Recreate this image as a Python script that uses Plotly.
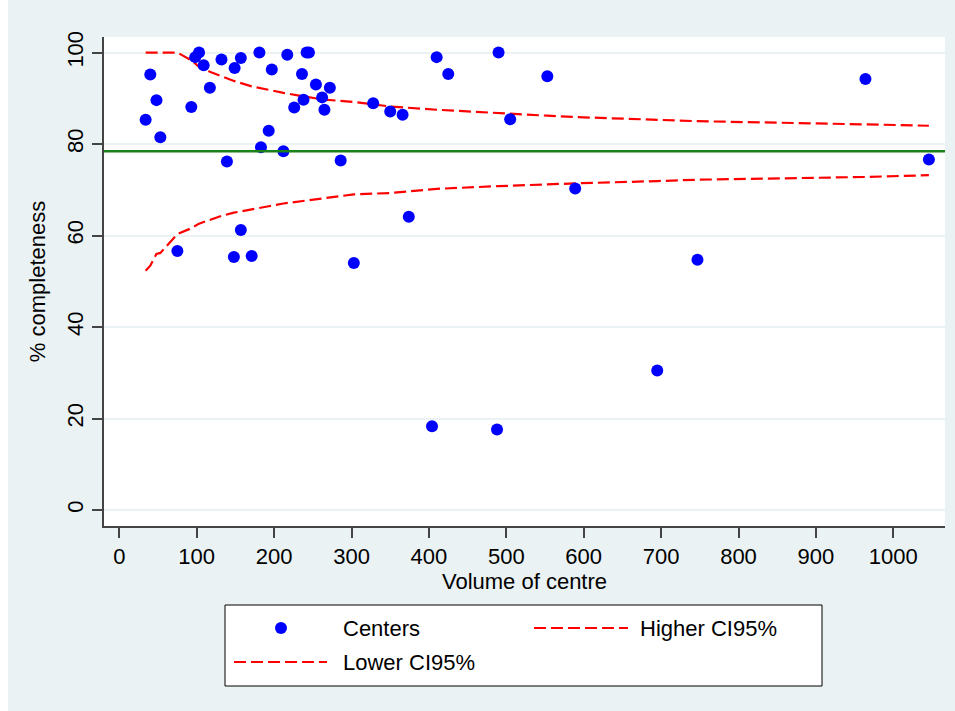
import plotly.graph_objects as go

# Centre volume and % completeness for each centre
volume = [34, 40, 48, 53, 75, 93, 98, 103, 109, 117, 132, 139, 149, 157, 148,
          157, 171, 181, 183, 193, 197, 212, 217, 226, 236, 238, 242, 245, 254,
          262, 265, 272, 286, 303, 328, 350, 366, 374, 404, 410, 425, 488, 490,
          505, 553, 589, 695, 747, 964, 1046]
completeness = [85.3, 95.2, 89.6, 81.5, 56.6, 88.1, 99.0, 100, 97.2, 92.3, 98.5,
                76.2, 96.6, 98.8, 55.3, 61.2, 55.5, 100, 79.3, 82.9, 96.3, 78.4,
                99.5, 88.0, 95.3, 89.7, 100, 100, 93.0, 90.2, 87.5, 92.3, 76.4,
                54.0, 88.9, 87.1, 86.4, 64.1, 18.3, 99.0, 95.3, 17.6, 100, 85.4,
                94.8, 70.3, 30.5, 54.7, 94.2, 76.6]

# Overall completeness (reference line)
overall = 78.4

# 95% control limits by centre volume
ci_volume = [34, 40, 48, 53, 75, 93, 103, 117, 132, 148, 171, 193, 212, 242,
             265, 303, 350, 410, 490, 553, 589, 695, 747, 964, 1046]
ci_upper = [100, 100, 100, 100, 100, 98.3, 96.9, 95.8, 94.8, 93.8, 92.6, 91.8,
            91.2, 90.3, 89.7, 89.2, 88.2, 87.5, 86.7, 86.2, 85.9, 85.2, 85.0,
            84.3, 84.0]
ci_lower = [52.3, 53.4, 56.0, 56.2, 60.3, 61.6, 62.6, 63.4, 64.3, 65.0, 65.8,
            66.4, 67.0, 67.7, 68.2, 69.0, 69.3, 70.2, 70.8, 71.2, 71.4, 71.9,
            72.2, 72.8, 73.2]

x_ticks = [0, 100, 200, 300, 400, 500, 600, 700, 800, 900, 1000]
y_ticks = [0, 20, 40, 60, 80, 100]

BG = "#EAF2F3"
RED = "#FF0000"
DASH = "12px,5px"
FONT = "Liberation Sans, Arial, sans-serif"
W, H = 955, 711
ML, MR, MT, MB = 104, 10, 37, 185
PW, PH = W - ML - MR, H - MT - MB


def px(x):
    return (x - ML) / PW


def py(y):
    return (H - MB - y) / PH


fig = go.Figure()

fig.add_trace(go.Scatter(
    x=ci_volume, y=ci_upper, mode="lines", name="Higher CI95%",
    line=dict(color=RED, width=2.2, dash=DASH), showlegend=False))
fig.add_trace(go.Scatter(
    x=ci_volume, y=ci_lower, mode="lines", name="Lower CI95%",
    line=dict(color=RED, width=2.2, dash=DASH), showlegend=False))
fig.add_hline(y=overall, line=dict(color="#1A801A", width=2.5), layer="above")
fig.add_trace(go.Scatter(
    x=volume, y=completeness, mode="markers", name="Centers",
    marker=dict(color="#0000FF", size=12, line=dict(width=0)), showlegend=False))

shapes = []
# white border strips around the graph region
shapes.append(dict(type="rect", xref="paper", yref="paper", layer="below",
                   x0=px(0), x1=px(W), y0=py(11), y1=py(0),
                   fillcolor="white", line=dict(width=0)))
shapes.append(dict(type="rect", xref="paper", yref="paper", layer="below",
                   x0=px(0), x1=px(8), y0=py(H), y1=py(0),
                   fillcolor="white", line=dict(width=0)))
# legend box
shapes.append(dict(type="rect", xref="paper", yref="paper",
                   x0=px(225), x1=px(822), y0=py(686), y1=py(605),
                   fillcolor="white", line=dict(color="black", width=1)))
shapes.append(dict(type="circle", xref="paper", yref="paper",
                   x0=px(275), x1=px(287), y0=py(634), y1=py(622),
                   fillcolor="#0000FF", line=dict(width=0)))
shapes.append(dict(type="line", xref="paper", yref="paper",
                   x0=px(534), x1=px(628), y0=py(628), y1=py(628),
                   line=dict(color=RED, width=2.2, dash=DASH)))
shapes.append(dict(type="line", xref="paper", yref="paper",
                   x0=px(234), x1=px(327), y0=py(662), y1=py(662),
                   line=dict(color=RED, width=2.2, dash=DASH)))

annotations = []
for text, x, y in [("Centers", 341, 628), ("Higher CI95%", 638, 628),
                   ("Lower CI95%", 341, 662)]:
    annotations.append(dict(text=text, xref="paper", yref="paper",
                            x=px(x), y=py(y), xanchor="left", yanchor="middle",
                            showarrow=False, font=dict(size=22, color="black")))

fig.update_layout(
    width=W, height=H,
    margin=dict(l=ML, r=MR, t=MT, b=MB),
    paper_bgcolor=BG, plot_bgcolor="white",
    font=dict(family=FONT, size=22, color="black"),
    shapes=shapes, annotations=annotations,
    showlegend=False,
)
fig.update_xaxes(
    range=[-19.8, 1066.8], tickvals=x_ticks,
    showline=True, linecolor="#444444", linewidth=1.5,
    ticks="outside", ticklen=10, tickwidth=1.5, tickcolor="#444444",
    showgrid=False, zeroline=False,
    tickfont=dict(size=22),
    title=dict(text="Volume of centre", font=dict(size=22), standoff=4),
)
fig.update_yaxes(
    range=[-3.5, 103.4], tickvals=y_ticks, tickangle=-90,
    showline=True, linecolor="#444444", linewidth=1.5,
    ticks="outside", ticklen=10, tickwidth=1.5, tickcolor="#444444",
    showgrid=True, gridcolor=BG, gridwidth=2, zeroline=False,
    tickfont=dict(size=22),
    title=dict(text="% completeness", font=dict(size=22), standoff=12),
)

fig.write_html("out.html")
